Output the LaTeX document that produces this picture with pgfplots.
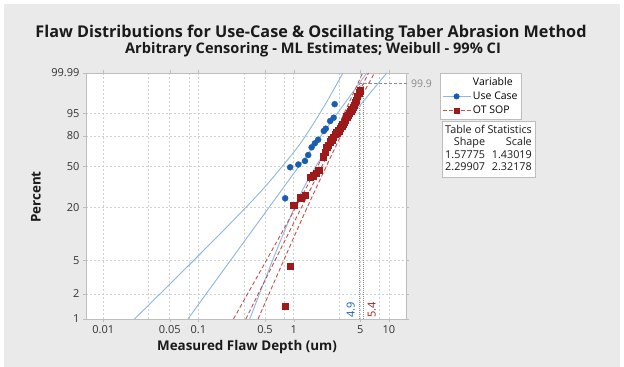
\documentclass[border=0pt]{standalone}
\usepackage{fontspec}
\setmainfont{Open Sans}
\usepackage{pgfplots}
\pgfplotsset{compat=1.18}
\definecolor{bgc}{HTML}{EAEAEA}
\definecolor{ucm}{HTML}{1A5DB0}
\definecolor{ucl}{HTML}{8DB8E2}
\definecolor{otm}{HTML}{9E1A1A}
\definecolor{otl}{HTML}{C8504B}
\definecolor{gridc}{HTML}{CFCFCF}
\definecolor{tickc}{HTML}{333333}
\definecolor{axc}{HTML}{BDBDBD}
\definecolor{refc}{HTML}{8A8A8A}
\definecolor{titc}{HTML}{1A1A1A}
\newcommand\fs[1]{\fontsize{#1bp}{#1bp}\selectfont}
\begin{document}
\begin{tikzpicture}
\useasboundingbox (0bp,0bp) rectangle (624bp,367bp);
\fill[white] (0bp,0bp) rectangle (624bp,367bp);
\fill[bgc] (4bp,0bp) rectangle (620bp,363bp);
\node[anchor=base, font=\fs{16.2}\bfseries, text=titc] at (311bp,329.7bp) {Flaw Distributions for Use-Case \& Oscillating Taber Abrasion Method};
\node[anchor=base, font=\fs{14.6}\bfseries, text=titc] at (313bp,313.7bp) {Arbitrary Censoring - ML Estimates; Weibull - 99\% CI};
\begin{axis}[
  at={(86bp,48bp)}, anchor=south west, scale only axis, width=320bp, height=246bp,
  xmode=log, xmin=0.0066, xmax=15.1, ymin=-4.60015, ymax=2.22031,
  axis background/.style={fill=white},
  axis line style={draw=axc},
  xtick={0.01,0.05,0.1,0.5,1,5,10},
  xticklabels={0.01,0.05,0.1,0.5,1,5,10},
  minor xtick={0.03,0.08,0.3,0.8,3,8},
  ytick={-4.60015,-3.90194,-2.97020,-1.49994,-0.36651,0.47588,1.09719,2.22031},
  yticklabels={1,2,5,20,50,80,95,99.99},
  grid=both,
  major grid style={gridc, dash pattern=on 2bp off 2bp, line width=0.6bp},
  minor grid style={gridc, dash pattern=on 2bp off 2bp, line width=0.6bp},
  tick align=outside, major tick length=3bp, minor tick length=0bp,
  tick style={axc},
  ticklabel style={font=\fs{11}, text=tickc},
  /pgf/number format/assume math mode=true,
  clip=false,
  legend style={at={(1.10625,1)}, anchor=north west, draw=axc, fill=white, font=\fs{10.5}, inner sep=2bp, row sep=1.2bp,
    column 2/.style={text width=126bp}},
  legend cell align=left,
  legend image code/.code={\draw[mark repeat=2,mark phase=2,#1] plot coordinates {(0bp,0bp) (14bp,0bp) (28bp,0bp)};},
]
\addlegendimage{empty legend}
\addlegendentry{Variable}
\addlegendimage{ucl, line width=0.8bp, mark=*, mark size=2.6bp, mark options={solid, draw=ucm, fill=ucm}}
\addlegendentry{Use Case}
\addlegendimage{otl, line width=0.8bp, dash pattern=on 4bp off 2bp, mark=square*, mark size=2.6bp, mark options={solid, draw=otm, fill=otm}}
\addlegendentry{OT SOP}

% reference lines
\addplot[refc, line width=0.6bp, dash pattern=on 1bp off 1bp, forget plot] coordinates {(4.87,-4.60015) (4.87,1.93264)};
\addplot[refc, line width=0.6bp, dash pattern=on 1bp off 1bp, forget plot] coordinates {(5.38,-4.60015) (5.38,1.93264)};
\addplot[refc, line width=0.6bp, dash pattern=on 3bp off 2bp, forget plot] coordinates {(4.87,1.93264) (16.3,1.93264)};
\node[anchor=west, font=\fs{10.5}, text=refc, inner sep=1bp] at (axis cs:16.6,1.93264) {99.9};
\node[rotate=90, anchor=west, font=\fs{11}, text=ucm, inner sep=1bp] at (axis cs:3.97,-4.60015) {4.9};
\node[rotate=90, anchor=west, font=\fs{11}, text=otm, inner sep=1bp] at (axis cs:6.60,-4.60015) {5.4};

% Use Case fit and CI
\addplot[ucl, line width=0.9bp, forget plot] coordinates {(0.07747,-4.60015) (5.842,2.22031)};
\addplot[ucl, line width=0.9bp, smooth, forget plot] coordinates {(0.02133,-4.60015) (0.03962,-3.9) (0.08733,-3.0) (0.2073,-2.0) (0.4751,-1.0) (1.0541,0.1) (1.5979,0.8) (2.3126,1.5) (3.2859,2.22031)};
\addplot[ucl, line width=0.9bp, smooth, forget plot] coordinates {(0.3458,-4.60015) (0.4378,-3.9) (0.5954,-3.0) (0.8484,-2.0) (1.2518,-1.0) (2.2026,0.1) (3.4808,0.8) (5.6454,1.5) (9.470,2.22031)};

% OT SOP fit and CI
\addplot[otl, line width=0.9bp, dash pattern=on 4bp off 2.5bp, forget plot] coordinates {(0.3139,-4.60015) (6.099,2.22031)};
\addplot[otl, line width=0.9bp, dash pattern=on 4bp off 2.5bp, smooth, forget plot] coordinates {(0.2333,-4.60015) (0.5098,-3.0) (1.0526,-1.5) (2.4131,0.3) (3.6664,1.3) (5.2821,2.22031)};
\addplot[otl, line width=0.9bp, dash pattern=on 4bp off 2.5bp, smooth, forget plot] coordinates {(0.4223,-4.60015) (0.7777,-3.0) (1.3888,-1.5) (2.9011,0.3) (4.5568,1.3) (7.0424,2.22031)};

% data points
\addplot[only marks, mark=*, mark size=3bp, draw=ucm, fill=ucm, forget plot] coordinates {
(0.814,-1.2538) (0.918,-0.3943) (1.119,-0.3167) (1.314,-0.2196) (1.421,-0.0532) (1.542,0.1603) (1.668,0.2712) (1.805,0.3710) (2.069,0.6122) (2.170,0.6760) (2.416,0.8894) (2.628,0.9810) (2.691,1.3552)};
\addplot[only marks, mark=square*, mark size=3.2bp, draw=otm, fill=otm, forget plot] coordinates {
(0.812,-4.2399) (0.917,-3.1308) (1.000,-1.4395) (1.181,-1.2316) (1.317,-1.1623) (1.486,-0.6632) (1.598,-0.6216) (1.718,-0.5523) (1.825,-0.4829)
(2.049,-0.1004) (2.135,0.0299) (2.225,0.1603) (2.296,0.2240) (2.410,0.3155) (2.498,0.3765) (2.610,0.4375) (2.719,0.5152) (2.834,0.5651) (2.959,0.6260) (3.068,0.6870) (3.182,0.7508) (3.275,0.8063) (3.380,0.8617) (3.462,0.9172) (3.608,1.0088) (3.723,1.0558) (3.842,1.1029) (3.955,1.1667) (4.072,1.2139) (4.201,1.2776) (4.304,1.3331) (4.410,1.4024) (4.518,1.4717) (4.661,1.5826) (4.891,1.6741) (4.974,1.7296)};
\end{axis}
\node[rotate=90, font=\fs{13.4}\bfseries, text=titc] at (36bp,170bp) {Percent};
\node[font=\fs{13.4}\bfseries, text=titc] at (247bp,20bp) {Measured Flaw Depth (um)};
\node[draw=axc, fill=white, anchor=north west, inner sep=3bp, text=titc] at (442bp,246bp) {%
\fontsize{10.8bp}{12.6bp}\selectfont
\renewcommand\arraystretch{1.0}%
\begin{tabular}{@{}r@{\hspace{4bp}}r@{}}
\multicolumn{2}{@{}c@{}}{Table of Statistics}\\
Shape & Scale\\
1.57775 & 1.43019\\
2.29907 & 2.32178
\end{tabular}};
\end{tikzpicture}
\end{document}
